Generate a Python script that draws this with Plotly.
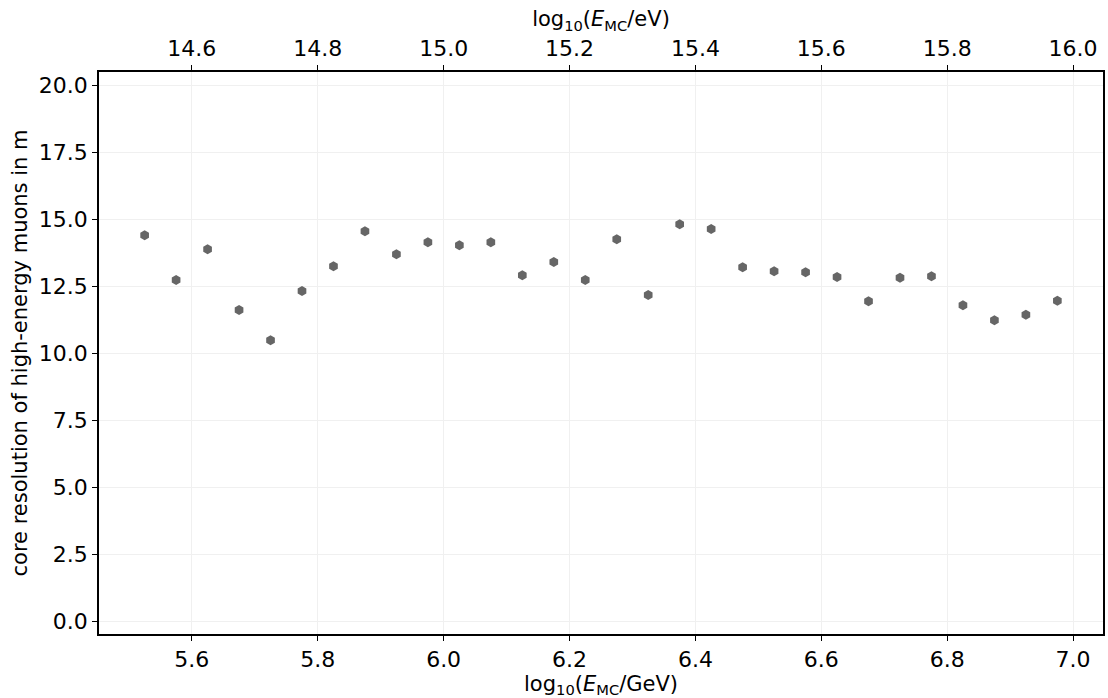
import plotly.graph_objects as go

log_e_gev = [5.525, 5.575, 5.625, 5.675, 5.725, 5.775, 5.825, 5.875, 5.925, 5.975,
             6.025, 6.075, 6.125, 6.175, 6.225, 6.275, 6.325, 6.375, 6.425, 6.475,
             6.525, 6.575, 6.625, 6.675, 6.725, 6.775, 6.825, 6.875, 6.925, 6.975]
core_resolution = [14.41, 12.74, 13.89, 11.62, 10.50, 12.33, 13.26, 14.56, 13.70, 14.15,
                   14.04, 14.15, 12.92, 13.41, 12.74, 14.26, 12.18, 14.82, 14.64, 13.22,
                   13.07, 13.03, 12.85, 11.95, 12.83, 12.88, 11.80, 11.24, 11.45, 11.97]
x_ticks = [5.6, 5.8, 6.0, 6.2, 6.4, 6.6, 6.8, 7.0]
top_ticks = [14.6, 14.8, 15.0, 15.2, 15.4, 15.6, 15.8, 16.0]
y_ticks = [0.0, 2.5, 5.0, 7.5, 10.0, 12.5, 15.0, 17.5, 20.0]

xr = [5.4525, 7.0475]
font = dict(family="DejaVu Sans", size=22, color="black")

fig = go.Figure()
fig.add_trace(go.Scatter(
    x=log_e_gev, y=core_resolution, mode="markers",
    marker=dict(symbol="hexagon", size=10, color="#666666", line=dict(width=0)),
    showlegend=False,
))

fig.update_layout(
    width=1108, height=698,
    margin=dict(l=99, r=3, t=72, b=64),
    paper_bgcolor="white", plot_bgcolor="white",
    font=font,
    xaxis=dict(
        range=xr, tickvals=x_ticks, ticktext=[f"{v:.1f}" for v in x_ticks],
        showline=True, linecolor="black", linewidth=1.5, mirror=False,
        ticks="outside", ticklen=5, tickcolor="black",
        showgrid=True, gridcolor="#f0f0f0", gridwidth=1, zeroline=False,
        title=dict(text="log<sub>10</sub>(<i>E</i><sub>MC</sub>/GeV)", font=dict(size=21), standoff=5),
        tickfont=dict(size=22),
    ),
    xaxis2=dict(
        range=[xr[0] + 9, xr[1] + 9], tickvals=top_ticks, ticktext=[f"{v:.1f}" for v in top_ticks],
        overlaying="x", side="top", anchor="y",
        showline=True, linecolor="black", linewidth=1.5,
        ticks="outside", ticklen=5, tickcolor="black",
        showgrid=False, zeroline=False,
        title=dict(text="log<sub>10</sub>(<i>E</i><sub>MC</sub>/eV)", font=dict(size=21), standoff=4),
        tickfont=dict(size=22),
    ),
    yaxis=dict(
        range=[-0.46, 20.5], tickvals=y_ticks, ticktext=[f"{v:.1f}" for v in y_ticks],
        showline=True, linecolor="black", linewidth=1.5, mirror=True,
        ticks="outside", ticklen=5, tickcolor="black",
        showgrid=True, gridcolor="#f0f0f0", gridwidth=1, zeroline=False,
        title=dict(text="core resolution of high-energy muons in m", font=dict(size=21), standoff=6),
        tickfont=dict(size=22),
    ),
)
# invisible companion trace so the top axis is rendered
fig.add_trace(go.Scatter(x=[v + 9 for v in log_e_gev], y=core_resolution, xaxis="x2",
                         mode="markers", marker=dict(opacity=0), hoverinfo="skip", showlegend=False))

fig.write_html("out.html")
